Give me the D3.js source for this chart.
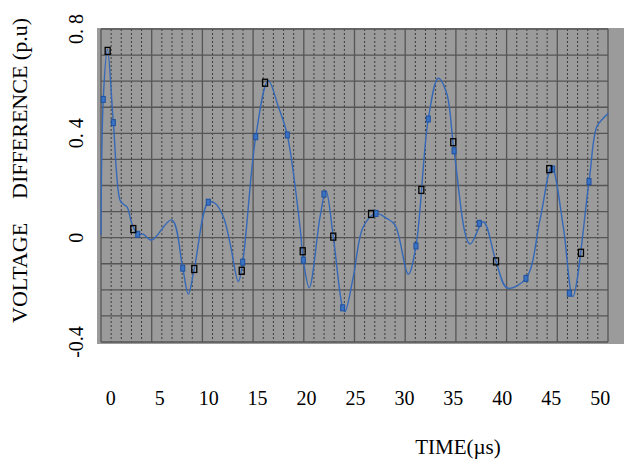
<!DOCTYPE html>
<html>
<head>
<meta charset="utf-8">
<script src="https://cdn.jsdelivr.net/npm/d3@7"></script>
<style>
  body { margin: 0; background: #fff; }
  text { font-family: "Liberation Serif", "Times New Roman", serif; fill: #000; }
</style>
</head>
<body>
<div id="chart"></div>
<script>
// voltage difference curve (time in µs, p.u)
var timeUs = [-1, -0.77, -0.34, 0.26, 0.94, 1.25, 1.66, 2.14, 2.75, 3.32, 4.18, 6.22, 7.35, 7.92, 8.53,
  9.96, 10.65, 11.5, 12.18, 13.03, 13.48, 14.81, 16.09, 17.12, 18.03, 19.33, 19.67, 20.28, 21.38, 21.99,
  22.73, 23.69, 23.93, 24.78, 25.8, 27.1, 28.19, 29.04, 30.4, 31.18, 32.44, 33.46, 34.32, 35.07, 36.7,
  38.06, 39.36, 40.51, 42.42, 43.85, 45.05, 46.23, 47.2, 48.86, 49.65, 50.32, 50.83]
var voltDiff = [0.01, 0.53, 0.723, 0.441, 0.144, 0.129, 0.118, 0.056, 0.013, 0.013, -0.009, 0.068, -0.117, -0.216, -0.12,
  0.136, 0.132, 0.08, -0.02, -0.169, -0.094, 0.387, 0.602, 0.502, 0.394, 0.042, -0.086, -0.192, 0.08, 0.18,
  0.004, -0.269, -0.284, -0.15, 0.042, 0.093, 0.074, 0.049, -0.14, -0.032, 0.455, 0.611, 0.553, 0.333, -0.024,
  0.061, -0.091, -0.193, -0.156, 0.068, 0.272, 0.042, -0.226, 0.215, 0.425, 0.458, 0.477]

// blue filled markers
var blueT = [-0.77, 0.26, 2.75, 7.35, 9.96, 13.48, 14.81, 18.03, 19.67, 21.78, 23.69, 27.1, 31.18, 32.44,
  35.07, 37.65, 42.42, 45.15, 46.85, 48.86]
var blueV = [0.53, 0.441, 0.013, -0.117, 0.136, -0.094, 0.387, 0.394, -0.086, 0.167, -0.269, 0.093, -0.032, 0.455,
  0.333, 0.055, -0.156, 0.263, -0.213, 0.215]

// black hollow markers
var blackT = [-0.32, 2.3, 8.53, 13.38, 15.76, 19.61, 22.73, 26.59, 31.73, 34.99, 39.36, 44.8, 48.04]
var blackV = [0.716, 0.033, -0.12, -0.127, 0.594, -0.052, 0.004, 0.091, 0.183, 0.366, -0.091, 0.263, -0.058]

var xTicks = [0, 5, 10, 15, 20, 25, 30, 35, 40, 45, 50]
var yTicks = [0.8, 0.4, 0, -0.4]
var yTickLabels = ['0. 8', '0. 4', '0', '-0.4']

var margin = {top: 29, right: 16, bottom: 119, left: 101}
var w = 624
var h = 461
var width = w - margin.left - margin.right
var height = h - margin.top - margin.bottom

var svg = d3.select('#chart')
    .append('svg')
    .attr('width', w)
    .attr('height', h)

// gray panel (extends a bit past the plot on both sides)
svg.append('rect')
    .attr('x', margin.left - 4)
    .attr('y', margin.top - 1)
    .attr('width', w - margin.left + 4)
    .attr('height', height + 3)
    .attr('fill', '#9b9b9b')

var g = svg.append('g')
    .attr('transform', 'translate(' + margin.left + ',' + margin.top + ')')

var x = d3.scaleLinear().domain([-1, 50.8]).range([0, width])
var y = d3.scaleLinear().domain([-0.4, 0.8]).range([height, 0])
var gx = d3.scaleLinear().domain([0, 50]).range([0, width])

// minor vertical dashed grid
g.append('g').selectAll('line')
    .data(d3.range(0, 51).filter(function(d) {return d % 5 !== 0}))
  .enter().append('line')
    .attr('x1', function(d) {return gx(d)})
    .attr('x2', function(d) {return gx(d)})
    .attr('y1', 0)
    .attr('y2', height)
    .attr('stroke', '#3a3a3a')
    .attr('stroke-width', 1)
    .attr('stroke-dasharray', '2,2')

// horizontal grid
g.append('g').selectAll('line')
    .data(d3.range(-4, 9).map(function(d) {return d / 10}))
  .enter().append('line')
    .attr('x1', 0)
    .attr('x2', width)
    .attr('y1', function(d) {return y(d)})
    .attr('y2', function(d) {return y(d)})
    .attr('stroke', '#555')
    .attr('stroke-width', 1.3)

// major vertical grid
g.append('g').selectAll('line')
    .data(d3.range(0, 51, 5))
  .enter().append('line')
    .attr('x1', function(d) {return gx(d)})
    .attr('x2', function(d) {return gx(d)})
    .attr('y1', 0)
    .attr('y2', height)
    .attr('stroke', '#555')
    .attr('stroke-width', 1.3)

var line = d3.line()
    .curve(d3.curveCatmullRom.alpha(0.5))
    .x(function(d) {return x(d[0])})
    .y(function(d) {return y(d[1])})

g.append('path')
    .datum(d3.zip(timeUs, voltDiff))
    .attr('d', line)
    .attr('fill', 'none')
    .attr('stroke', '#3468b8')
    .attr('stroke-width', 1.4)

g.append('g').selectAll('rect')
    .data(d3.zip(blueT, blueV))
  .enter().append('rect')
    .attr('x', function(d) {return x(d[0]) - 2})
    .attr('y', function(d) {return y(d[1]) - 3})
    .attr('width', 4)
    .attr('height', 6)
    .attr('fill', '#3b73c4')
    .attr('stroke', '#1d4f9e')
    .attr('stroke-width', 1)

g.append('g').selectAll('rect')
    .data(d3.zip(blackT, blackV))
  .enter().append('rect')
    .attr('x', function(d) {return x(d[0]) - 2.5})
    .attr('y', function(d) {return y(d[1]) - 3.5})
    .attr('width', 5)
    .attr('height', 7)
    .attr('fill', 'none')
    .attr('stroke', '#000')
    .attr('stroke-width', 1.3)

// tick labels
g.append('g').selectAll('text')
    .data(xTicks)
  .enter().append('text')
    .attr('x', function(d) {return x(d)})
    .attr('y', 376)
    .attr('text-anchor', 'middle')
    .style('font-size', '20px')
    .text(function(d) {return d})

g.append('g').selectAll('text')
    .data(yTicks)
  .enter().append('text')
    .attr('transform', function(d) {return 'translate(-18,' + y(d) + ') rotate(-90)'})
    .attr('text-anchor', 'middle')
    .style('font-size', '20px')
    .text(function(d, i) {return yTickLabels[i]})

// axis titles
var yTitle = svg.append('text')
    .attr('transform', 'translate(27,323) rotate(-90)')
    .style('font-size', '22px')
yTitle.append('tspan').text('VOLTAGE')
yTitle.append('tspan').attr('dx', 24).text('DIFFERENCE (p.u)')

svg.append('text')
    .attr('x', 458)
    .attr('y', 454)
    .attr('text-anchor', 'middle')
    .style('font-size', '21px')
    .text('TIME(µs)')
</script>
</body>
</html>
